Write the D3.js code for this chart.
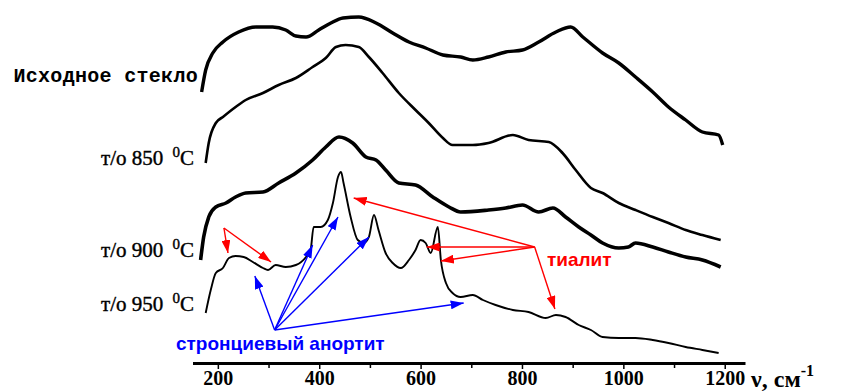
<!DOCTYPE html>
<html><head><meta charset="utf-8">
<script src="https://cdn.jsdelivr.net/npm/d3@7"></script>
<style>body{margin:0;background:#fff}svg{display:block}</style>
</head><body><svg id="chart" width="841" height="392"></svg>
<script>
// wavenumber (cm-1), offset intensity (a.u.)
const glass = [[168,271],[176,293],[190,310],[210,321],[241,331],[275,336],[308,336],[334,333],[354,327],[374,326],[399,333],[423,340],[447,345],[478,346],[512,340],[545,330],[577,321],[610,315],[644,308],[679,306],[703,303],[734,306],[768,311],[801,313],[833,321],[867,331],[896,336],[920,326],[959,310],[991,300],[1024,286],[1058,271],[1089,256],[1123,243],[1156,231],[1188,228],[1196,218]];
const t850 = [[176,200],[182,220],[196,240],[210,246],[235,256],[255,263],[289,270],[320,278],[354,285],[387,296],[413,305],[433,316],[452,318],[478,316],[498,306],[525,290],[557,270],[590,253],[616,240],[644,225],[663,218],[703,218],[734,220],[782,228],[813,223],[853,221],[880,210],[906,193],[936,175],[959,170],[991,160],[1024,153],[1058,146],[1089,140],[1123,133],[1156,128],[1192,123]];
const t900 = [[166,103],[172,126],[182,146],[196,156],[216,160],[235,166],[255,170],[289,171],[320,180],[354,190],[387,203],[413,216],[439,226],[466,220],[492,206],[512,203],[531,193],[557,180],[590,178],[624,166],[656,156],[679,151],[734,153],[768,155],[801,158],[833,151],[861,155],[886,146],[912,136],[936,128],[959,120],[991,115],[1010,116],[1024,120],[1058,116],[1089,111],[1123,106],[1156,103],[1192,96]];
const t950 = [[176,50],[186,73],[196,90],[210,95],[222,105],[235,107],[251,106],[269,101],[289,95],[299,93],[314,98],[334,96],[354,98],[374,106],[383,113],[389,136],[403,136],[417,143],[427,160],[437,186],[443,191],[448,180],[462,146],[476,123],[488,120],[498,126],[508,148],[517,133],[531,110],[545,100],[561,95],[577,103],[590,113],[600,123],[610,120],[620,110],[634,136],[640,103],[650,80],[663,70],[679,66],[703,68],[723,63],[748,58],[782,53],[813,51],[847,45],[867,48],[886,46],[912,38],[936,33],[959,26],[991,25],[1024,25],[1058,23],[1089,20],[1123,16],[1156,13],[1188,10]];
const seriesLabels = ["Исходное стекло", "т/о 850", "т/о 900", "т/о 950"];
const majorTicks = [200, 400, 600, 800, 1000, 1200];
const minorTicks = [300, 500, 700, 900, 1100];
// annotation anchors [wavenumber, intensity]
const tialiteFrom1 = [212,135];
const tialiteTo1 = [[220,110],[305,101]];
const tialiteFrom2 = [825,116];
const tialiteTo2 = [[468,165],[612,116],[640,102],[865,54]];
const anorthiteFrom = [312,33];
const anorthiteTo = [[273,87],[387,118],[437,146],[498,126],[685,60]];
const tialiteLabel = "тиалит";
const anorthiteLabel = "стронциевый анортит";

const svg = d3.select("#chart");
const x = d3.scaleLinear().domain([150, 1240]).range([192.5, 745]);
const y = d3.scaleLinear().domain([0, 350]).range([363, 13]);

const line = d3.line().x(d => x(d[0])).y(d => y(d[1])).curve(d3.curveMonotoneX);
const series = [
  {data: glass, w: 3.4},
  {data: t850, w: 2.6},
  {data: t900, w: 3.6},
  {data: t950, w: 1.9}
];
series.forEach(s => {
  svg.append("path").attr("d", line(s.data)).attr("fill", "none")
    .attr("stroke", "#000").attr("stroke-width", s.w).attr("stroke-linejoin", "round");
});

// x axis
const axisG = svg.append("g").attr("transform", `translate(0,${y(0)})`)
  .attr("font-family", "Liberation Serif, serif");
const axis = d3.axisBottom(x).tickValues(majorTicks).tickSize(6).tickSizeOuter(0).tickFormat(d3.format("d"));
axisG.call(axis);
axisG.attr("font-family", "Liberation Serif, serif").attr("font-size", 20);
axisG.select(".domain").attr("stroke-width", 3);
axisG.selectAll(".tick line").attr("stroke-width", 1.5);
axisG.selectAll(".tick text").attr("font-family", "Liberation Serif, serif").attr("font-size", 20)
  .attr("font-weight", "bold").attr("fill", "#000").attr("y", 6).attr("dy", "0.8em");
const minorAxis = d3.axisBottom(x).tickValues(minorTicks).tickSize(5).tickFormat("");
const minorG = svg.append("g").attr("transform", `translate(0,${y(0)})`).call(minorAxis);
minorG.select(".domain").remove();
minorG.selectAll(".tick line").attr("stroke-width", 1.5);

// axis title
const title = svg.append("text").attr("x", 751).attr("y", 387)
  .attr("font-family", "Liberation Serif, serif").attr("font-weight", "bold").attr("font-size", 24).attr("fill", "#000");
title.append("tspan").text("ν, см");
title.append("tspan").attr("font-size", 16).attr("dy", -11).text("-1");

// series labels
svg.append("text").attr("x", 198).attr("y", 82).attr("text-anchor", "end")
  .attr("font-family", "Liberation Mono, monospace").attr("font-weight", "bold").attr("font-size", 20)
  .attr("letter-spacing", 0.3)
  .text(seriesLabels[0]);
const tempLabels = [{t: seriesLabels[1], yy: 165}, {t: seriesLabels[2], yy: 257}, {t: seriesLabels[3], yy: 311}];
tempLabels.forEach(l => {
  const t = svg.append("text").attr("x", 194).attr("y", l.yy).attr("text-anchor", "end")
    .attr("font-family", "Liberation Serif, serif").attr("font-size", 21).attr("fill", "#000")
    .attr("stroke", "#000").attr("stroke-width", 0.4);
  t.append("tspan").text(l.t + " ");
  t.append("tspan").attr("dx", 4).attr("dy", -8).attr("font-size", 15).text("0");
  t.append("tspan").attr("dy", 8).text("C");
});

// arrows
const defs = svg.append("defs");
[["red", "#ff0000"], ["blue", "#0000ff"]].forEach(([id, col]) => {
  defs.append("marker").attr("id", "arr-" + id).attr("viewBox", "0 0 13 9")
    .attr("refX", 13).attr("refY", 4.5).attr("markerWidth", 13).attr("markerHeight", 9)
    .attr("markerUnits", "userSpaceOnUse").attr("orient", "auto")
    .append("path").attr("d", "M0,0L13,4.5L0,9Z").attr("fill", col);
});
function arrows(from, tos, col, id) {
  tos.forEach(t => {
    svg.append("line").attr("x1", x(from[0])).attr("y1", y(from[1]))
      .attr("x2", x(t[0])).attr("y2", y(t[1])).attr("stroke", col).attr("stroke-width", 1.4)
      .attr("marker-end", `url(#arr-${id})`);
  });
}
arrows(tialiteFrom1, tialiteTo1, "#ff0000", "red");
arrows(tialiteFrom2, tialiteTo2, "#ff0000", "red");
arrows(anorthiteFrom, anorthiteTo, "#0000ff", "blue");

svg.append("text").attr("x", 547).attr("y", 266)
  .attr("font-family", "Liberation Sans, Arial, sans-serif").attr("font-weight", "bold").attr("font-size", 19)
  .attr("fill", "#ff0000").text(tialiteLabel);
svg.append("text").attr("x", 176).attr("y", 350)
  .attr("font-family", "Liberation Sans, Arial, sans-serif").attr("font-weight", "bold").attr("font-size", 19)
  .attr("fill", "#0000ff").text(anorthiteLabel);
</script></body></html>
